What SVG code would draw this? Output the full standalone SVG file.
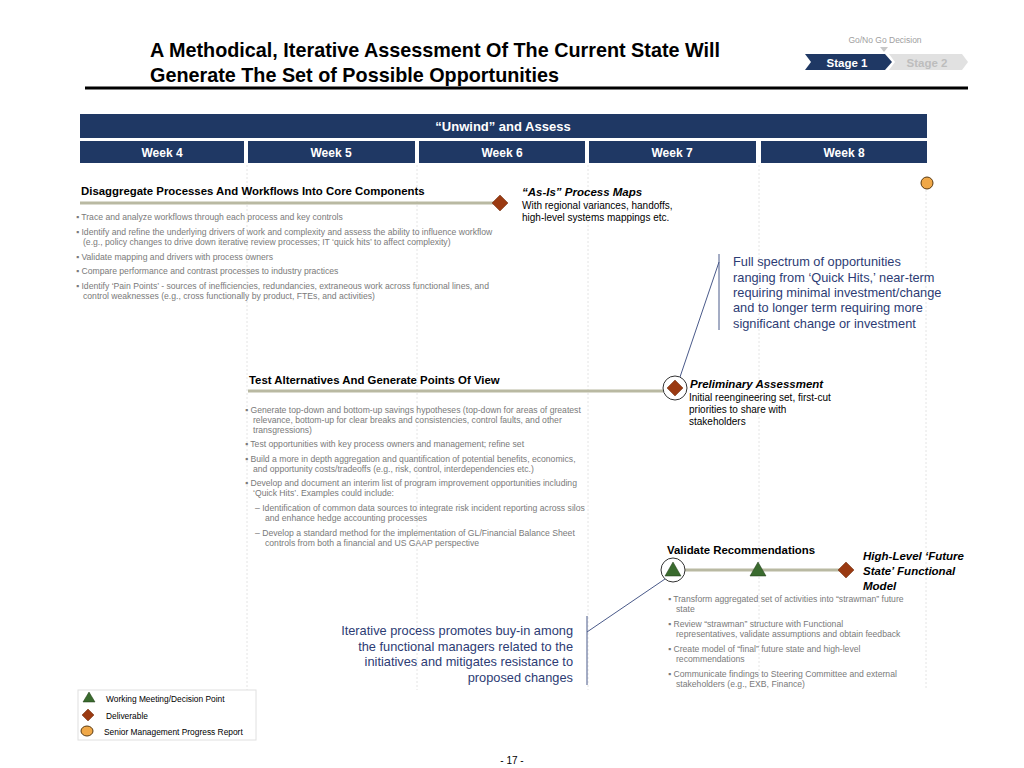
<svg xmlns="http://www.w3.org/2000/svg" width="1024" height="768" viewBox="0 0 1024 768">
<style>
text{font-family:"Liberation Sans",Arial,sans-serif}
.title{font-size:19.8px;font-weight:bold;fill:#000}
.hdr{font-size:13px;font-weight:bold;fill:#fff}
.wk{font-size:12px;font-weight:bold;fill:#fff}
.h{font-size:11.4px;font-weight:bold;fill:#000}
.hi{font-size:11.5px;font-weight:bold;font-style:italic;fill:#000}
.sub{font-size:10px;fill:#000}
.b{font-size:8.65px;fill:#7a7a7a}
.call{font-size:12.8px;fill:#2d3c74}
.leg{font-size:8.4px;fill:#000}
.navy{fill:#1f3864}
.bar{stroke:#b9b9a2;stroke-width:3}
.grid{stroke:#e4e4e4;stroke-width:1;stroke-dasharray:2 2}
.cl{stroke:#4a5a8a;stroke-width:1;fill:none}
.dia{fill:#9a3a12;stroke:#6a2a0a;stroke-width:0.5}
.tri{fill:#3a6b2e;stroke:#1e3a14;stroke-width:0.5}
.ring{fill:#fff;stroke:#333;stroke-width:1}
</style>
<defs>
<polygon id="dm" points="0,-8 8,0 0,8 -8,0" class="dia"/>
<polygon id="tr" points="0,-8 8,6 -8,6" class="tri"/>
</defs>
<rect width="1024" height="768" fill="#fff"/>

<g id="grid">
<line x1="247" y1="165" x2="247" y2="690" class="grid"/>
<line x1="417" y1="165" x2="417" y2="690" class="grid"/>
<line x1="588" y1="165" x2="588" y2="690" class="grid"/>
<line x1="759" y1="165" x2="759" y2="690" class="grid"/>
<line x1="926" y1="190" x2="926" y2="690" class="grid"/>
</g>

<g id="title">
<text x="150" y="57" class="title">A Methodical, Iterative Assessment Of The Current State Will</text>
<text x="150" y="82" class="title">Generate The Set of Possible Opportunities</text>
<line x1="85" y1="88" x2="968" y2="88" stroke="#000" stroke-width="3"/>
</g>

<g id="stages">
<text x="885" y="43" text-anchor="middle" font-size="8.5px" fill="#a0a0a0">Go/No Go Decision</text>
<polygon points="880,47 888,47 884,52" fill="#c8c8c8"/>
<polygon points="889,54 962,54 968,62 962,70 889,70 895,62" fill="#e1e1e1"/>
<polygon points="805,54 885,54 892,62 885,70 805,70 811,62" class="navy"/>
<text x="847" y="67" text-anchor="middle" font-size="11.5px" font-weight="bold" fill="#fff">Stage 1</text>
<text x="927" y="67" text-anchor="middle" font-size="11.5px" font-weight="bold" fill="#bdbdbd">Stage 2</text>
</g>

<g id="timeline">
<rect x="80" y="114" width="847" height="24" class="navy"/>
<text x="503" y="131" text-anchor="middle" class="hdr">“Unwind” and Assess</text>
<rect x="80" y="141" width="164" height="22" class="navy"/>
<rect x="248" y="141" width="167" height="22" class="navy"/>
<rect x="419" y="141" width="166" height="22" class="navy"/>
<rect x="589" y="141" width="167" height="22" class="navy"/>
<rect x="761" y="141" width="166" height="22" class="navy"/>
<text x="162" y="157" text-anchor="middle" class="wk">Week 4</text>
<text x="331" y="157" text-anchor="middle" class="wk">Week 5</text>
<text x="502" y="157" text-anchor="middle" class="wk">Week 6</text>
<text x="672" y="157" text-anchor="middle" class="wk">Week 7</text>
<text x="844" y="157" text-anchor="middle" class="wk">Week 8</text>
</g>

<g id="progress-report">
<circle cx="927" cy="183" r="6" fill="#f0a848" stroke="#5a3a10" stroke-width="1"/>
</g>

<g id="disaggregate">
<text x="81" y="195" class="h">Disaggregate Processes And Workflows Into Core Components</text>
<line x1="80" y1="203" x2="495" y2="203" class="bar"/>
<use href="#dm" x="500" y="203"/>
<text x="76" y="220" class="b">▪ Trace and analyze workflows through each process and key controls</text>
<text x="76" y="235" class="b">▪ Identify and refine the underlying drivers of work and complexity and assess the ability to influence workflow</text>
<text x="83" y="245" class="b">(e.g., policy changes to drive down iterative review processes; IT ‘quick hits’ to affect complexity)</text>
<text x="76" y="260" class="b">▪ Validate mapping and drivers with process owners</text>
<text x="76" y="274" class="b">▪ Compare performance and contrast processes to industry practices</text>
<text x="76" y="289" class="b">▪ Identify ‘Pain Points’ - sources of inefficiencies, redundancies, extraneous work across functional lines, and</text>
<text x="83" y="299" class="b">control weaknesses (e.g., cross functionally by product, FTEs, and activities)</text>
</g>

<g id="as-is">
<text x="522" y="196" class="hi">“As-Is” Process Maps</text>
<text x="522" y="209" class="sub">With regional variances, handoffs,</text>
<text x="522" y="221" class="sub">high-level systems mappings etc.</text>
</g>

<g id="full-spectrum">
<text x="733" y="266" class="call">Full spectrum of opportunities</text>
<text x="733" y="282" class="call">ranging from ‘Quick Hits,’ near-term</text>
<text x="733" y="297" class="call">requiring minimal investment/change</text>
<text x="733" y="312" class="call">and to longer term requiring more</text>
<text x="733" y="328" class="call">significant change or investment</text>
</g>

<g id="test-alternatives">
<text x="249" y="384" class="h">Test Alternatives And Generate Points Of View</text>
<line x1="248" y1="391" x2="663" y2="391" class="bar"/>
<text x="245" y="413" class="b">▪ Generate top-down and bottom-up savings hypotheses (top-down for areas of greatest</text>
<text x="253" y="423" class="b">relevance, bottom-up for clear breaks and consistencies, control faults, and other</text>
<text x="253" y="433" class="b">transgressions)</text>
<text x="245" y="447" class="b">▪ Test opportunities with key process owners and management; refine set</text>
<text x="245" y="462" class="b">▪ Build a more in depth aggregation and quantification of potential benefits, economics,</text>
<text x="253" y="472" class="b">and opportunity costs/tradeoffs (e.g., risk, control, interdependencies etc.)</text>
<text x="245" y="486" class="b">▪ Develop and document an interim list of program improvement opportunities including</text>
<text x="253" y="496" class="b">‘Quick Hits’. Examples could include:</text>
<text x="255" y="511" class="b">–   Identification of common data sources to integrate risk incident reporting across silos</text>
<text x="265" y="521" class="b">and enhance hedge accounting processes</text>
<text x="255" y="536" class="b">–   Develop a standard method for the implementation of GL/Financial Balance Sheet</text>
<text x="265" y="546" class="b">controls from both a financial and US GAAP perspective</text>
</g>

<g id="preliminary">
<circle cx="675" cy="388" r="12" class="ring"/>
<use href="#dm" x="675" y="388"/>
<text x="690" y="388" class="hi">Preliminary Assessment</text>
<text x="689" y="401" class="sub">Initial reengineering set, first-cut</text>
<text x="689" y="413" class="sub">priorities to share with</text>
<text x="689" y="425" class="sub">stakeholders</text>
</g>

<g id="validate">
<text x="667" y="554" class="h">Validate Recommendations</text>
<line x1="685" y1="570" x2="840" y2="570" class="bar"/>
<circle cx="673" cy="570" r="12" class="ring"/>
<use href="#tr" x="673" y="570"/>
<use href="#tr" x="758" y="570"/>
<use href="#dm" x="846" y="570"/>
<text x="668" y="602" class="b">▪ Transform aggregated set of activities into “strawman” future</text>
<text x="676" y="612" class="b">state</text>
<text x="668" y="627" class="b">▪ Review “strawman” structure with Functional</text>
<text x="676" y="637" class="b">representatives, validate assumptions and obtain feedback</text>
<text x="668" y="652" class="b">▪ Create model of “final” future state and high-level</text>
<text x="676" y="662" class="b">recommendations</text>
<text x="668" y="677" class="b">▪ Communicate findings to Steering Committee and external</text>
<text x="676" y="687" class="b">stakeholders (e.g., EXB, Finance)</text>
</g>

<g id="future-state">
<text x="863" y="560" class="hi">High-Level ‘Future</text>
<text x="863" y="575" class="hi">State’ Functional</text>
<text x="863" y="590" class="hi">Model</text>
</g>

<g id="iterative">
<text x="573" y="635" text-anchor="end" class="call">Iterative process promotes buy-in among</text>
<text x="573" y="651" text-anchor="end" class="call">the functional managers related to the</text>
<text x="573" y="666" text-anchor="end" class="call">initiatives and mitigates resistance to</text>
<text x="573" y="682" text-anchor="end" class="call">proposed changes</text>
</g>

<g id="connectors">
<line x1="719" y1="254" x2="719" y2="330" class="cl"/>
<line x1="719" y1="262" x2="680" y2="377" class="cl"/>
<line x1="587" y1="616" x2="587" y2="685" class="cl"/>
<line x1="587" y1="632" x2="665" y2="579" class="cl"/>
</g>

<g id="legend">
<rect x="78" y="690" width="178" height="50" fill="#fff" stroke="#e0e0e0" stroke-width="1"/>
<polygon points="89,692 95,702 83,702" class="tri"/>
<polygon points="88,709 94,715 88,721 82,715" class="dia"/>
<ellipse cx="87" cy="731" rx="6" ry="5" fill="#f0a848" stroke="#5a3a10" stroke-width="1"/>
<text x="106" y="702" class="leg">Working Meeting/Decision Point</text>
<text x="106" y="719" class="leg">Deliverable</text>
<text x="104" y="735" class="leg">Senior Management Progress Report</text>
</g>

<text x="512" y="764" text-anchor="middle" font-size="10px" fill="#000">- 17 -</text>
</svg>
